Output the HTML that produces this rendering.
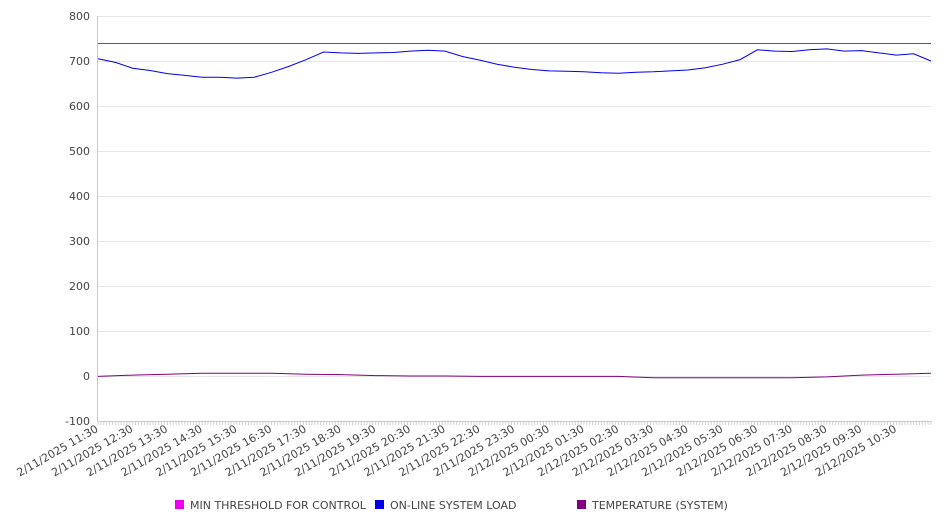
<!DOCTYPE html>
<html><head><meta charset="utf-8"><style>
body{margin:0;background:#fff;font-family:"DejaVu Sans","Liberation Sans",sans-serif;}
svg text{font-family:"DejaVu Sans","Liberation Sans",sans-serif;fill:#444;}
</style></head><body>
<svg id="chart" width="946" height="526" xmlns="http://www.w3.org/2000/svg">
<g id="grid"></g><g id="axes"></g><g id="series"></g><g id="legend"></g>
</svg>
<script>
const yTicks=[800,700,600,500,400,300,200,100,0,-100];
const xLabels=["2/11/2025 11:30","2/11/2025 12:30","2/11/2025 13:30","2/11/2025 14:30","2/11/2025 15:30","2/11/2025 16:30","2/11/2025 17:30","2/11/2025 18:30","2/11/2025 19:30","2/11/2025 20:30","2/11/2025 21:30","2/11/2025 22:30","2/11/2025 23:30","2/12/2025 00:30","2/12/2025 01:30","2/12/2025 02:30","2/12/2025 03:30","2/12/2025 04:30","2/12/2025 05:30","2/12/2025 06:30","2/12/2025 07:30","2/12/2025 08:30","2/12/2025 09:30","2/12/2025 10:30"];
// half-hourly readings from 11:30 to 11:30 next day (49 points)
const loadValues=[705,697,684,679,672,668,664,664,662,664,675,688,703,720,718,717,718,719,722,724,722,710,702,693,686,681,678,677,676,674,673,675,676,678,680,685,693,703,725,722,721,725,727,722,723,718,713,716,700];
const thresholdValues=[740,740];
// hourly readings (25 points)
const tempValues=[-1,2,4,6,6,6,4,3,1,0,0,-1,-1,-1,-1,-1,-4,-4,-4,-4,-4,-2,2,4,6];
const series=[
 {name:"MIN THRESHOLD FOR CONTROL",color:"#dd00dd",vals:thresholdValues,key:"threshold"},
 {name:"ON-LINE SYSTEM LOAD",color:"#0000ee",vals:loadValues,key:"load"},
 {name:"TEMPERATURE (SYSTEM)",color:"#800080",vals:tempValues,key:"temperature"}];
const legColors=["#ee00ee","#0000ee","#800080"];
const X0=98,X1=931,Y0=16,Y1=421,VMAX=800,VMIN=-100;
const yS=v=>Y0+(VMAX-v)*(Y1-Y0)/(VMAX-VMIN);
const xS=f=>X0+f*(X1-X0);
const NS="http://www.w3.org/2000/svg";
function mk(t,a,p){const e=document.createElementNS(NS,t);for(const k in a)e.setAttribute(k,a[k]);p.appendChild(e);return e;}
const grid=document.getElementById('grid'),axes=document.getElementById('axes'),ser=document.getElementById('series'),leg=document.getElementById('legend');
yTicks.forEach(v=>{
 const yy=Math.round(yS(v))+0.5;
 const l=mk('line',{x1:X0,x2:X1,y1:yy,y2:yy,stroke:"#e6e6e6","stroke-width":1},grid);
 
 
 const t=mk('text',{x:X0-8,y:yS(v)+4,"text-anchor":"end","font-size":11},axes);t.textContent=v;
 
 
});
const ya=mk('line',{x1:X0-0.5,x2:X0-0.5,y1:Y0,y2:Y1,stroke:"#c8c8c8"},axes);


const xa=mk('line',{x1:X0,x2:X1,y1:Y1+0.5,y2:Y1+0.5,stroke:"#c8c8c8"},axes);


let d="";for(let i=0;i<=288;i++){const x=xS(i/288);d+=`M${x.toFixed(1)} ${Y1}v4`;}
const mt=mk('path',{d:d,stroke:"#c8c8c8","stroke-width":0.8},axes);


xLabels.forEach((s,i)=>{
 const x=xS(i/24)+1,y=Y1+10;
 const t=mk('text',{x:x,y:y,"text-anchor":"end","font-size":11,transform:`rotate(-30 ${x} ${y})`},axes);t.textContent=s;
 
 
});
series.forEach(s=>{
 const n=s.vals.length;
 const pts=s.vals.map((v,i)=>`${xS(i/(n-1)).toFixed(1)},${s.key==="threshold"?Math.round(yS(v))+0.5:yS(v).toFixed(1)}`).join(' ');
 const p=mk('polyline',{points:pts,fill:"none",stroke:s.color,"stroke-width":1},ser);
 
 
});
const legX=[175,375,577];
series.forEach((s,i)=>{
 const r=mk('rect',{x:legX[i],y:500,width:9,height:9,fill:legColors[i]},leg);
 
 
 const t=mk('text',{x:legX[i]+15,y:509,"font-size":11},leg);t.textContent=s.name;
 
 
});
</script>
</body></html>
